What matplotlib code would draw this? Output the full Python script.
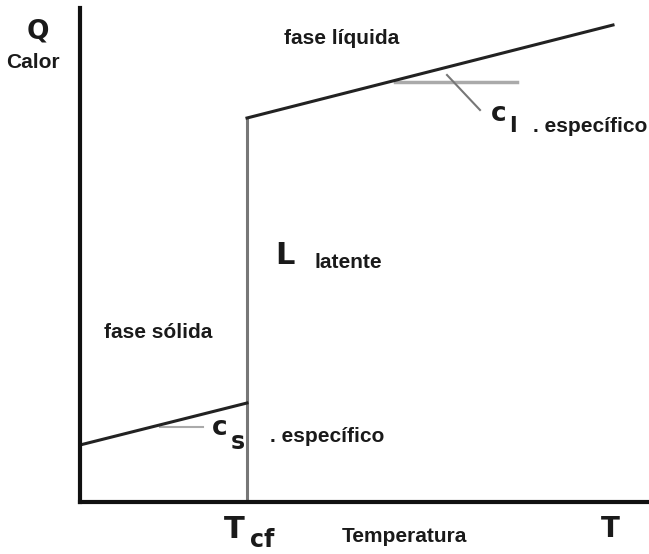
# Diagrama calor vs temperatura (cambio de fase)
import matplotlib
matplotlib.use("Agg")
import matplotlib.pyplot as plt

# datos en unidades del diagrama (T horizontal, Q vertical)
T_solido = [0, 167]
Q_solido = [57, 99]
T_fusion = 167
Q_fusion = [0, 384]
T_liquido = [167, 533]
Q_liquido = [384, 477]

# marcas de pendiente
T_marca_s = [80, 123]
Q_marca_s = [75, 75]
T_marca_l = [315, 437]
Q_marca_l = [420, 420]
T_tick_l = [367, 400]
Q_tick_l = [427, 392]

plt.rcParams['font.family'] = ['Liberation Sans', 'DejaVu Sans']

W, H = 649, 554
fig = plt.figure(figsize=(W / 100, H / 100), dpi=100)
ax = fig.add_axes([80 / W, 52 / H, 569 / W, 494 / H])
ax.set_xlim(0, 569)
ax.set_ylim(0, 494)
ax.set_xticks([])
ax.set_yticks([])
for s in ['top', 'right']:
    ax.spines[s].set_visible(False)
for s in ['left', 'bottom']:
    ax.spines[s].set_linewidth(3)
    ax.spines[s].set_color('#111111')

ax.plot(T_marca_s, Q_marca_s, color='#aaaaaa', lw=1.5)
ax.plot(T_marca_l, Q_marca_l, color='#aaaaaa', lw=2.5)
ax.plot(T_tick_l, Q_tick_l, color='#777777', lw=1.5)
ax.plot([T_fusion, T_fusion], Q_fusion, color='#777777', lw=2.2)
ax.plot(T_solido, Q_solido, color='#222222', lw=2.2)
ax.plot(T_liquido, Q_liquido, color='#222222', lw=2.2)


# textos en pixeles de la imagen
def txt(x, y, s, size=15, family=None, **kw):
    kw.setdefault('ha', 'center')
    kw.setdefault('va', 'center')
    if family:
        kw['family'] = family
    fig.text(x / W, 1 - y / H, s, fontsize=size, fontweight='bold',
             color='#1a1a1a', **kw)


heavy = ['DejaVu Sans']
txt(38, 32, 'Q', 19, heavy)
txt(33, 62, 'Calor')
txt(342, 39, 'fase líquida')
txt(499, 114, 'c', 19, heavy)
txt(513, 126, 'l', 16, heavy)
txt(533, 127, '. específico', ha='left')
txt(285, 256, 'L', 22, heavy)
txt(315, 262, 'latente', ha='left')
txt(158, 332, 'fase sólida')
txt(220, 428, 'c', 19, heavy)
txt(238, 442, 's', 17, heavy)
txt(270, 436, '. específico', ha='left')
txt(234, 530, 'T', 22, heavy)
txt(262, 540, 'cf', 17, heavy)
txt(404, 537, 'Temperatura')
txt(610, 529, 'T', 20, heavy)

fig.savefig('out.png', dpi=100)
